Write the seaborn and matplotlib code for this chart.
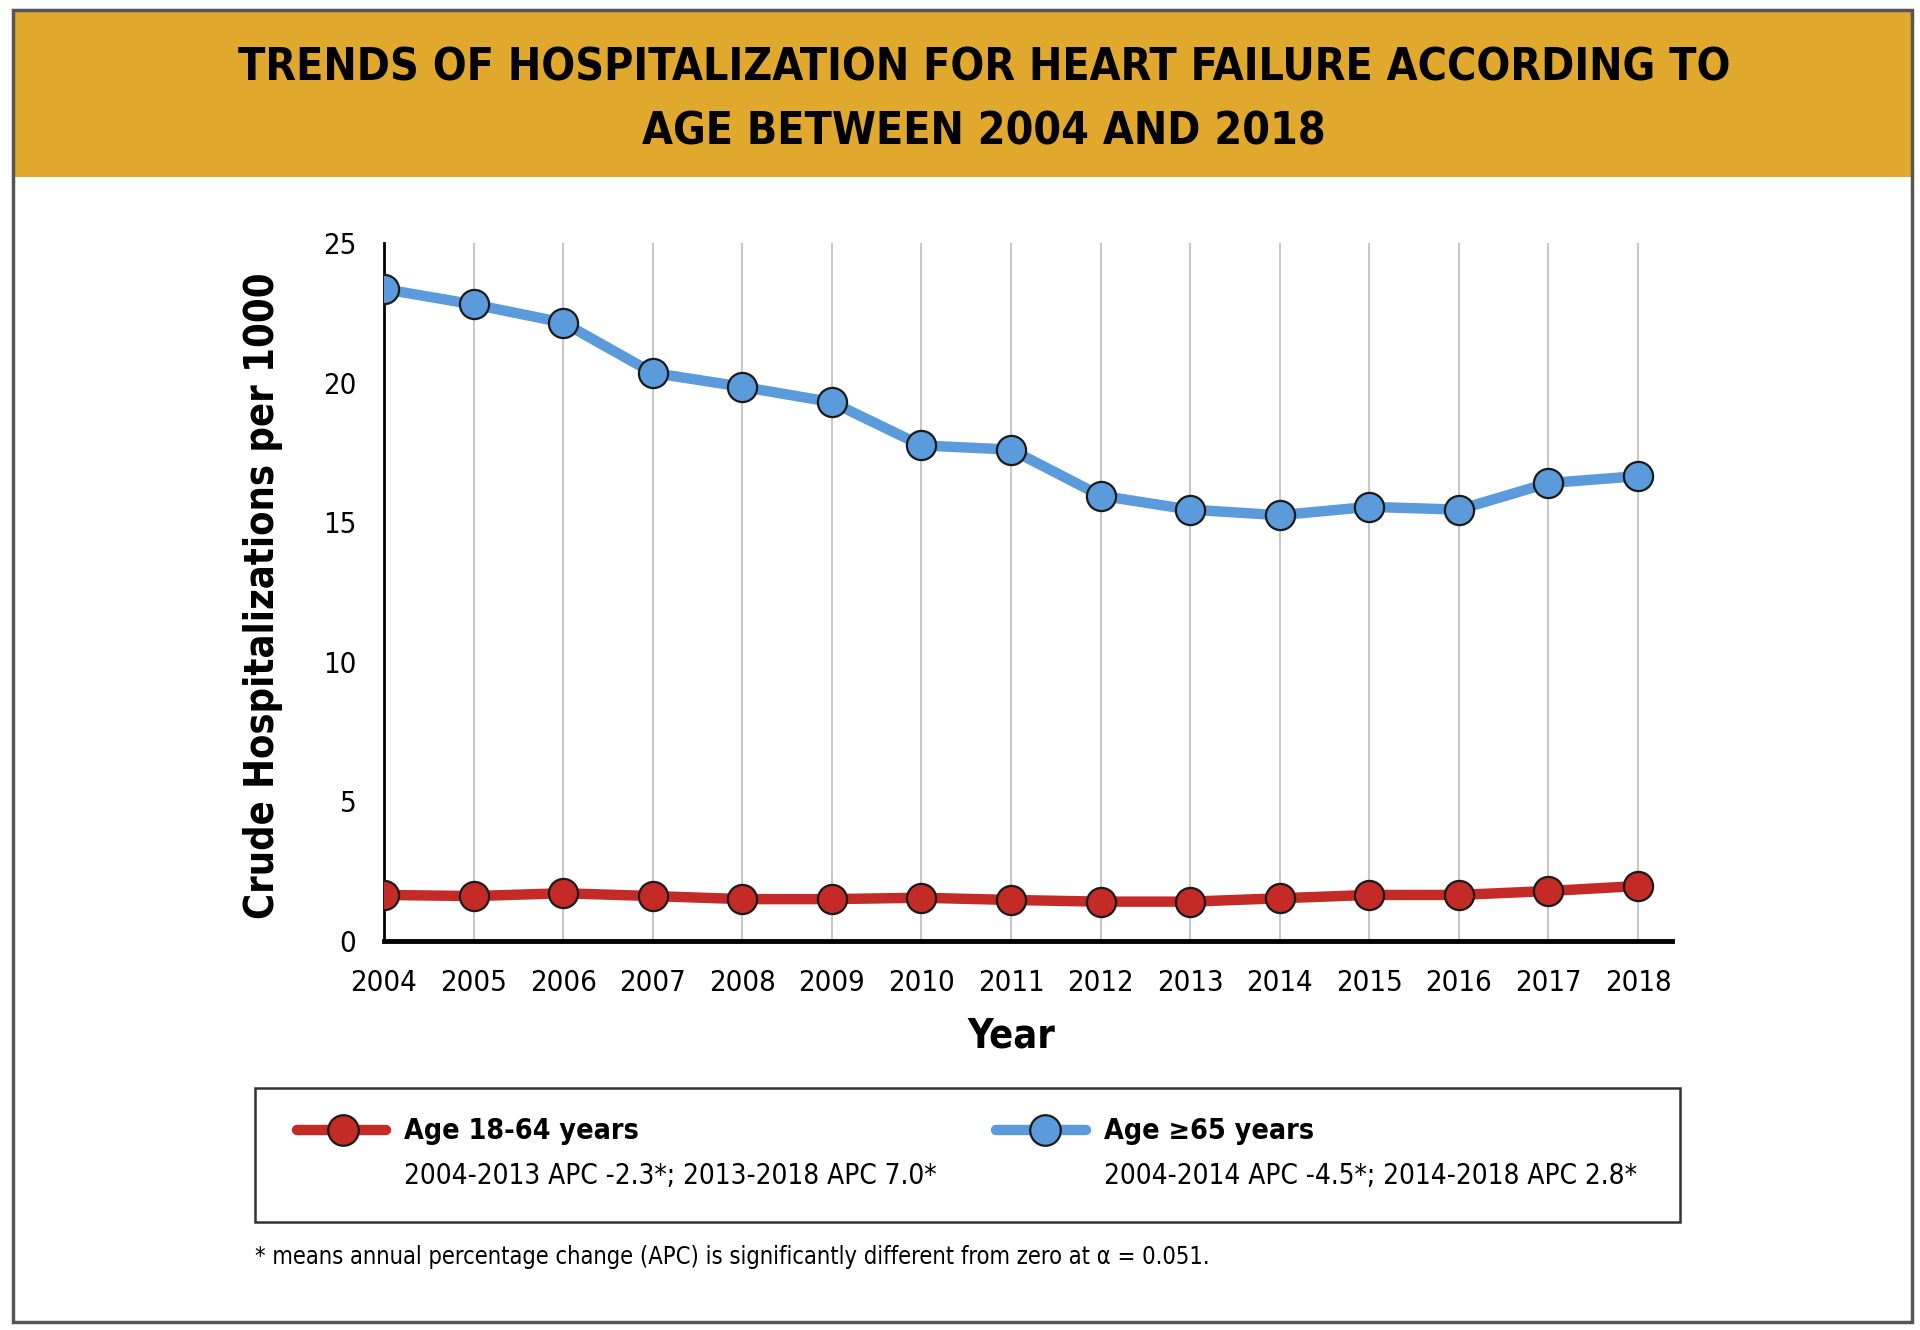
import matplotlib
matplotlib.use("Agg")
import matplotlib.pyplot as plt
from matplotlib.patches import Rectangle
from matplotlib.lines import Line2D
import seaborn as sns
import pandas as pd

# values
years = list(range(2004, 2019))
age_18_64 = [1.65, 1.61, 1.71, 1.61, 1.50, 1.50, 1.55, 1.47, 1.41, 1.41, 1.53, 1.65, 1.65, 1.79, 1.97]
age_65_plus = [23.35, 22.8, 22.15, 20.35, 19.85, 19.3, 17.75, 17.6, 15.95, 15.45, 15.25, 15.55, 15.45, 16.4, 16.65]
groups = ["Age 18-64 years", "Age \u226565 years"]
apc_notes = ["2004-2013 APC -2.3*; 2013-2018 APC 7.0*",
             "2004-2014 APC -4.5*; 2014-2018 APC 2.8*"]
y_ticks = [0, 5, 10, 15, 20, 25]
title_lines = ["TRENDS OF HOSPITALIZATION FOR HEART FAILURE ACCORDING TO",
               "AGE BETWEEN 2004 AND 2018"]
footnote = "* means annual percentage change (APC) is significantly different from zero at \u03b1 = 0.051."

colors = {groups[0]: "#c42a26", groups[1]: "#5b9bdc"}

df = pd.DataFrame({
    "Year": years * 2,
    "Rate": age_18_64 + age_65_plus,
    "Group": [groups[0]] * len(years) + [groups[1]] * len(years),
})

sns.set_style("white")
# condensed face of DejaVu Sans, closest to the narrow type in the original
plt.rcParams["font.family"] = ["DejaVu Sans"]
plt.rcParams["font.stretch"] = "condensed"

W, H = 1920, 1330
fig = plt.figure(figsize=(W / 100, H / 100), dpi=100)
fig.patch.set_facecolor("white")


def fx(px):
    return px / W


def fy(py):
    return 1 - py / H


# outer frame and title band
fig.patches.append(Rectangle((fx(13), fy(177)), fx(1912) - fx(13), fy(10) - fy(177),
                             transform=fig.transFigure, facecolor="#e0a82c",
                             edgecolor="none", zorder=0))
fig.patches.append(Rectangle((fx(13), fy(1322)), fx(1912) - fx(13), fy(10) - fy(1322),
                             transform=fig.transFigure, facecolor="none",
                             edgecolor="#555555", linewidth=2.5, zorder=1))
fig.text(fx(984), fy(68), title_lines[0], ha="center", va="center",
         fontsize=32, fontweight="bold", color="black")
fig.text(fx(984), fy(132), title_lines[1], ha="center", va="center",
         fontsize=32, fontweight="bold", color="black")

ax = fig.add_axes([fx(384), fy(941), fx(1672) - fx(384), fy(243) - fy(941)])
sns.lineplot(data=df, x="Year", y="Rate", hue="Group", palette=colors,
             marker="o", markersize=21, markeredgecolor="#1a1a1a",
             markeredgewidth=1.6, linewidth=7.5, legend=False, ax=ax,
             zorder=3)

ax.set_xlim(2004, 2018.38)
ax.set_ylim(0, 25)
ax.set_xticks(years)
ax.set_yticks(y_ticks)
ax.tick_params(axis="both", labelsize=21, length=14, width=1.6, pad=6,
               colors="black", direction="out")
ax.grid(axis="x", color="#c8c8c8", linewidth=1.5)
ax.grid(axis="y", visible=False)
for side in ["top", "right"]:
    ax.spines[side].set_visible(False)
ax.spines["left"].set_linewidth(2)
ax.spines["left"].set_color("black")
ax.spines["bottom"].set_linewidth(3.5)
ax.spines["bottom"].set_color("black")

ax.set_ylabel("Crude Hospitalizations per 1000", fontsize=28.5, fontweight="bold",
              color="black")
ax.yaxis.set_label_coords((263 - 384) / (1672 - 384), 0.495)
ax.set_xlabel("Year", fontsize=28.5, fontweight="bold", color="black")
ax.xaxis.set_label_coords((1011 - 384) / (1672 - 384), -(1037 - 941) / (941 - 243))
ax.xaxis.label.set_va("center")
ax.yaxis.label.set_va("center")

# legend box drawn by hand (two columns with sub notes)
fig.patches.append(Rectangle((fx(255), fy(1222)), fx(1680) - fx(255), fy(1088) - fy(1222),
                             transform=fig.transFigure, facecolor="white",
                             edgecolor="#333333", linewidth=1.8, zorder=1))
entries = [(297, 386, 343, 404), (996, 1086, 1045, 1104)]
for (x0, x1, xm, xt), grp, note in zip(entries, groups, apc_notes):
    fig.lines.append(Line2D([fx(x0), fx(x1)], [fy(1130), fy(1130)],
                            transform=fig.transFigure, color=colors[grp],
                            linewidth=7.5, zorder=2))
    fig.lines.append(Line2D([fx(xm)], [fy(1130)], transform=fig.transFigure,
                            marker="o", markersize=22, markerfacecolor=colors[grp],
                            markeredgecolor="#1a1a1a", markeredgewidth=1.6,
                            linestyle="none", zorder=3))
    fig.text(fx(xt), fy(1131), grp, ha="left", va="center", fontsize=20.5,
             fontweight="bold", color="black")
    fig.text(fx(xt), fy(1176), note, ha="left", va="center", fontsize=20,
             color="black")

fig.text(fx(255), fy(1257), footnote, ha="left", va="center", fontsize=17,
         color="black")

fig.savefig("out.png", dpi=100, facecolor="white")
